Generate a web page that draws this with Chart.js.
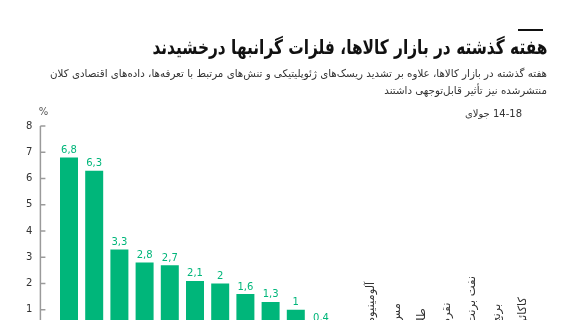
<!DOCTYPE html>
<html lang="fa">
<head>
<meta charset="utf-8">
<script src="https://cdn.jsdelivr.net/npm/chart.js@4/dist/chart.umd.min.js"></script>
<style>
  html, body { margin: 0; padding: 0; background: #fff; overflow: hidden; }
  #wrap { position: relative; width: 568px; height: 320px; overflow: hidden; font-family: "DejaVu Sans", sans-serif; }
  #chart-box { position: absolute; left: 0; top: 0; width: 568px; height: 400px; }
  .rtl { position: absolute; direction: rtl; text-align: right; white-space: nowrap; color: #222; transform-origin: right center; }
  #rule { position: absolute; left: 518px; top: 29px; width: 25px; height: 2px; background: #111; }
  #title { right: 21px; top: 35px; font-size: 20px; line-height: 24px; font-weight: bold; color: #111; }
  #sub1 { right: 21px; top: 65px; font-size: 10.5px; line-height: 16px; color: #333; }
  #sub2 { right: 21px; top: 82px; font-size: 10.5px; line-height: 16px; color: #333; }
  #date { right: 46px; top: 108px; font-size: 10px; color: #333; }
</style>
</head>
<body>
<div id="wrap">
  <div id="chart-box"><canvas id="chart"></canvas></div>
  <div id="rule"></div>
  <div id="title" class="rtl">هفته گذشته در بازار کالاها، فلزات گرانبها درخشیدند</div>
  <div id="sub1" class="rtl">هفته گذشته در بازار کالاها، علاوه بر تشدید ریسک‌های ژئوپلیتیکی و تنش‌های مرتبط با تعرفه‌ها، داده‌های اقتصادی کلان</div>
  <div id="sub2" class="rtl">منتشرشده نیز تأثیر قابل‌توجهی داشتند</div>
  <div id="date" class="rtl">14-18 جولای</div>
</div>
<script>
// weekly change, percent (bars after the 12th sit below zero, off the visible area)
const categories = [
  'پالادیوم', 'پلاتین', 'گاز طبیعی', 'قهوه', 'گندم', 'ذرت', 'سویا',
  'شکر', 'پنبه', 'روی', 'نیکل', 'سرب',
  'آلومینیوم', 'مس', 'طلا', 'نقره', 'نفت برنت', 'برنج', 'کاکائو'
];
const changes = [6.8, 6.3, 3.3, 2.8, 2.7, 2.1, 2, 1.6, 1.3, 1, 0.4, 0.1,
  -0.3, -0.6, -0.8, -1.1, -1.5, -2.2, -3.4];
const yTicks = [0, 1, 2, 3, 4, 5, 6, 7, 8];

const GREEN = '#00b67a';
const FONT = '"DejaVu Sans", sans-serif';

const fmt = v => String(v).replace('.', ',');

// squeeze header lines to the reference widths
function fitWidth(el, w) {
  const s = w / el.getBoundingClientRect().width;
  el.style.transform = 'scaleX(' + s + ')';
  return s;
}
fitWidth(document.getElementById('title'), 395);
const s1 = fitWidth(document.getElementById('sub1'), 497);
document.getElementById('sub2').style.transform = 'scaleX(' + s1 + ')';

// y axis drawn as a bracket left of the bars, ticks pointing inward
const sideAxis = {
  id: 'sideAxis',
  afterDraw(chart) {
    const { ctx, chartArea } = chart;
    const y = chart.scales.y;
    const x0 = chartArea.left - 16;
    ctx.save();
    ctx.strokeStyle = '#9a9a9a';
    ctx.lineWidth = 1.5;
    ctx.beginPath();
    ctx.moveTo(x0, y.getPixelForValue(yTicks[yTicks.length - 1]));
    ctx.lineTo(x0, y.getPixelForValue(0));
    ctx.stroke();
    ctx.font = '10px ' + FONT;
    ctx.fillStyle = '#333';
    ctx.textAlign = 'right';
    ctx.textBaseline = 'middle';
    yTicks.forEach(t => {
      const py = y.getPixelForValue(t);
      ctx.beginPath();
      ctx.moveTo(x0, py);
      ctx.lineTo(x0 + 5, py);
      ctx.stroke();
      ctx.fillText(String(t), x0 - 8, py);
    });
    ctx.fillStyle = '#555';
    ctx.textAlign = 'center';
    ctx.fillText('%', x0 + 3, y.getPixelForValue(8) - 14);
    ctx.restore();
  }
};

// value labels above bars, category names rotated on the far side of zero
const barLabels = {
  id: 'barLabels',
  afterDatasetsDraw(chart) {
    const { ctx } = chart;
    const meta = chart.getDatasetMeta(0);
    const zero = chart.scales.y.getPixelForValue(0);
    ctx.save();
    meta.data.forEach((bar, i) => {
      const v = changes[i];
      ctx.font = '10px ' + FONT;
      ctx.fillStyle = GREEN;
      ctx.textAlign = 'center';
      if (v >= 0) {
        ctx.textBaseline = 'bottom';
        ctx.fillText(fmt(v), bar.x, bar.y - 2);
      } else {
        ctx.textBaseline = 'top';
        ctx.fillText(fmt(v), bar.x, bar.y + 2);
      }
      ctx.save();
      ctx.translate(bar.x, v >= 0 ? zero + 8 : zero - 12);
      ctx.rotate(-Math.PI / 2);
      ctx.fillStyle = '#333';
      ctx.font = '11.5px ' + FONT;
      ctx.textBaseline = 'middle';
      ctx.textAlign = v >= 0 ? 'right' : 'left';
      ctx.fillText(categories[i], 0, 0);
      ctx.restore();
    });
    ctx.restore();
  }
};

new Chart(document.getElementById('chart'), {
  type: 'bar',
  data: {
    labels: categories,
    datasets: [{
      data: changes,
      backgroundColor: GREEN,
      borderWidth: 0,
      categoryPercentage: 1,
      barPercentage: 0.714
    }]
  },
  options: {
    responsive: true,
    maintainAspectRatio: false,
    animation: false,
    layout: { padding: { left: 56.4, right: 32.8, top: 126, bottom: 64 } },
    plugins: { legend: { display: false }, tooltip: { enabled: false } },
    scales: {
      x: { display: false },
      y: { display: false, min: 0, max: 8 }
    }
  },
  plugins: [sideAxis, barLabels]
});
</script>
</body>
</html>
